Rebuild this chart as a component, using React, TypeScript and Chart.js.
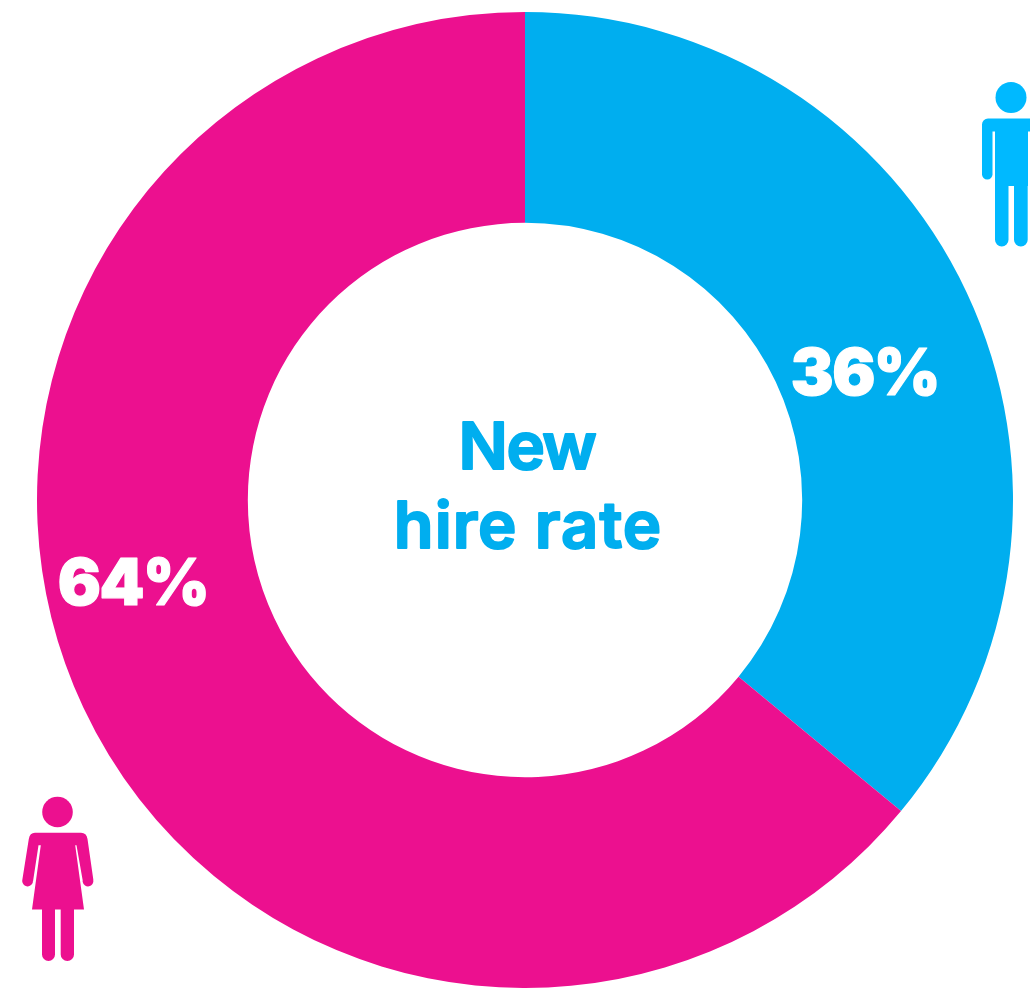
import React, { useEffect, useRef } from "react";
import { Chart, registerables } from "chart.js";

Chart.register(...registerables);

const categories = ["Men", "Women"];
const shares = [36, 64];
const sliceColors = ["#00AEEF", "#EC108F"];
const centerLines = ["New", "hire rate"];
const MAN_COLOR = "#00B9FF";
const WOMAN_COLOR = "#EC108F";
const LABEL_FONT = '"Inter", sans-serif';

function drawMan(ctx: CanvasRenderingContext2D) {
  ctx.fillStyle = MAN_COLOR;
  ctx.beginPath();
  ctx.arc(1011, 97.5, 15.5, 0, Math.PI * 2);
  ctx.fill();
  // Shoulders and torso
  ctx.beginPath();
  ctx.roundRect(982, 118.5, 60, 13, [6, 6, 0, 0]);
  ctx.rect(995, 125, 33, 61);
  ctx.fill();
  // Arms
  ctx.beginPath();
  ctx.roundRect(982, 124, 10.5, 55.5, [0, 0, 5.2, 5.2]);
  ctx.fill();
  // Legs
  ctx.beginPath();
  ctx.roundRect(995, 180, 13.5, 66.5, [0, 0, 6.7, 6.7]);
  ctx.roundRect(1014, 180, 13.7, 66.5, [0, 0, 6.8, 6.8]);
  ctx.fill();
}

function drawWoman(ctx: CanvasRenderingContext2D) {
  ctx.fillStyle = WOMAN_COLOR;
  ctx.beginPath();
  ctx.arc(57.5, 812, 15.3, 0, Math.PI * 2);
  ctx.fill();
  // Shoulders, sleeves and dress
  ctx.beginPath();
  ctx.moveTo(35, 832.7);
  ctx.lineTo(81, 832.7);
  ctx.quadraticCurveTo(86.5, 832.7, 87.5, 839);
  ctx.lineTo(93.3, 879.5);
  ctx.arc(88, 881, 5.4, -0.2, Math.PI + 0.15);
  ctx.lineTo(76.5, 845.3);
  ctx.lineTo(75.2, 845.3);
  ctx.lineTo(84, 909.5);
  ctx.lineTo(32, 909.5);
  ctx.lineTo(40.8, 845.3);
  ctx.lineTo(38.5, 845.3);
  ctx.lineTo(33, 881.5);
  ctx.arc(27.6, 881, 5.4, -0.05, Math.PI + 0.2);
  ctx.lineTo(28.8, 839);
  ctx.quadraticCurveTo(29.8, 832.7, 35, 832.7);
  ctx.closePath();
  ctx.fill();
  // Legs
  ctx.beginPath();
  ctx.roundRect(42, 905, 13, 56, [0, 0, 6.5, 6.5]);
  ctx.roundRect(60.7, 905, 13.3, 56, [0, 0, 6.6, 6.6]);
  ctx.fill();
}

// Fills and strokes a line of text so its corners come out soft
function softText(ctx: CanvasRenderingContext2D, text: string, x: number, y: number, weight: number) {
  ctx.lineJoin = "round";
  ctx.lineWidth = weight;
  ctx.strokeStyle = ctx.fillStyle as string;
  ctx.strokeText(text, x, y);
  ctx.fillText(text, x, y);
}

const overlayPlugin = {
  id: "ringOverlay",
  afterDatasetsDraw(chart: Chart) {
    const { ctx } = chart;
    const arc = chart.getDatasetMeta(0).data[0] as any;
    const cx = arc.x;
    const cy = arc.y;
    ctx.save();
    ctx.textAlign = "center";
    ctx.textBaseline = "alphabetic";

    // Share labels sit inside the ring
    ctx.fillStyle = "#FFFFFF";
    ctx.font = `900 64px ${LABEL_FONT}`;
    (ctx as any).letterSpacing = "-1.5px";
    softText(ctx, `${shares[0]}%`, cx + 340, cy - 105, 1.2);
    softText(ctx, `${shares[1]}%`, cx - 392, cy + 105, 1.2);

    // Centre caption
    ctx.fillStyle = sliceColors[0];
    ctx.font = `600 65px ${LABEL_FONT}`;
    (ctx as any).letterSpacing = "-1.5px";
    softText(ctx, centerLines[0], cx + 2, cy - 31, 2);
    (ctx as any).letterSpacing = "1px";
    softText(ctx, centerLines[1], cx + 3, cy + 48, 2);
    (ctx as any).letterSpacing = "0px";

    drawMan(ctx);
    drawWoman(ctx);
    ctx.restore();
  },
};

export default function App() {
  const ref = useRef<HTMLCanvasElement>(null);
  useEffect(() => {
    document.body.style.margin = "0";
    const chart = new Chart(ref.current!, {
      type: "doughnut",
      data: {
        labels: categories,
        datasets: [{ data: shares, backgroundColor: sliceColors, borderWidth: 0 }],
      },
      options: {
        animation: false,
        responsive: false,
        cutout: "56.8%",
        layout: { padding: { left: 20, top: 12 } },
        plugins: { legend: { display: false }, tooltip: { enabled: false } },
      },
      plugins: [overlayPlugin],
    });
    return () => chart.destroy();
  }, []);
  return <canvas ref={ref} width={1030} height={988} style={{ display: "block" }} />;
}
